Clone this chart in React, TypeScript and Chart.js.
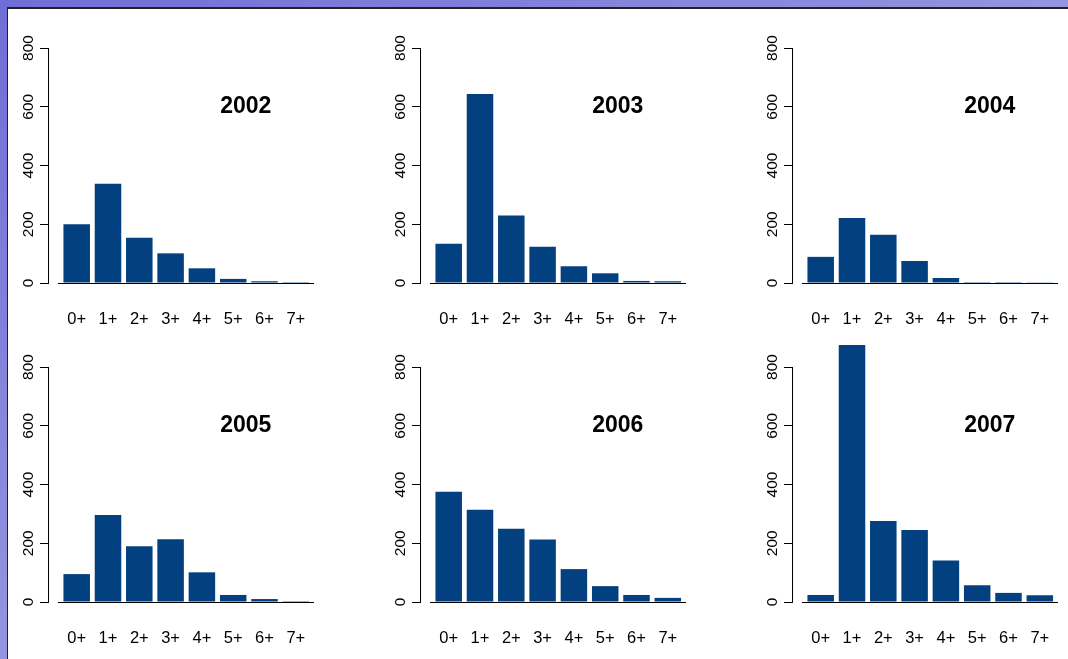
import React, { useEffect, useRef } from "react";
import { Chart, registerables } from "chart.js";

Chart.register(...registerables);

// ---- data ----
const ageClasses = ["0+", "1+", "2+", "3+", "4+", "5+", "6+", "7+"];
const years = ["2002", "2003", "2004", "2005", "2006", "2007"];
const counts2002 = [200, 338, 154, 101, 50, 14, 6, 3];
const counts2003 = [134, 643, 230, 123, 57, 33, 7, 6];
const counts2004 = [89, 221, 164, 75, 17, 3, 3, 1];
const counts2005 = [95, 296, 190, 214, 101, 24, 10, 3];
const counts2006 = [375, 314, 249, 213, 112, 54, 24, 14];
const counts2007 = [24, 875, 276, 245, 141, 57, 31, 23];
const yTicks = [0, 200, 400, 600, 800];

const seriesByYear = [counts2002, counts2003, counts2004, counts2005, counts2006, counts2007];

// ---- layout / style ----
const BAR = "#02407f";
const CW = 372;
const CH = 340;
const PAD_L = 58;
const PAD_T = 48;
const PAD_R = 59;
const X_AXIS_H = 57;
const PITCH = 31.3;
const FIRST_CENTER = 76.7;
const X_MIN = (PAD_L - FIRST_CENTER) / PITCH;
const X_MAX = X_MIN + (CW - PAD_L - PAD_R) / PITCH;
const Y_AXIS_AT = (48.4 - FIRST_CENTER) / PITCH;
const TITLE_X = 5.4;
const TITLE_Y = 600;
const FONT = '"Liberation Sans", Arial, sans-serif';

const panelText = {
  id: "panelText",
  afterDraw(chart: any, _args: any, opts: any) {
    const { ctx } = chart;
    const x = chart.scales.x;
    const y = chart.scales.y;
    ctx.save();
    ctx.fillStyle = "#000";
    ctx.textAlign = "center";
    ctx.textBaseline = "middle";
    ctx.font = `15.5px ${FONT}`;
    const ax = x.getPixelForValue(Y_AXIS_AT);
    for (const t of y.ticks) {
      const py = y.getPixelForValue(t.value);
      ctx.save();
      ctx.translate(ax - 20, py);
      ctx.rotate(-Math.PI / 2);
      ctx.fillText(String(t.value), 0, 0);
      ctx.restore();
    }
    ctx.font = `bold 23px ${FONT}`;
    ctx.fillText(opts.year, x.getPixelForValue(TITLE_X), y.getPixelForValue(TITLE_Y));
    ctx.restore();
  },
};

function Panel({ year, values, left, top }: { year: string; values: number[]; left: number; top: number }) {
  const ref = useRef<HTMLCanvasElement>(null);
  useEffect(() => {
    const chart = new Chart(ref.current as HTMLCanvasElement, {
      type: "bar",
      data: {
        datasets: [
          {
            data: values.map((v, i) => ({ x: i, y: v })),
            backgroundColor: BAR,
            borderWidth: 0,
            barPercentage: 0.847,
            categoryPercentage: 1,
            clip: false,
          } as any,
        ],
      },
      options: {
        animation: false,
        responsive: false,
        maintainAspectRatio: false,
        devicePixelRatio: 1,
        layout: { padding: { left: PAD_L, top: PAD_T, right: PAD_R, bottom: 0 } },
        plugins: {
          legend: { display: false },
          tooltip: { enabled: false },
          title: { display: false },
          panelText: { year },
        } as any,
        scales: {
          x: {
            type: "linear",
            offset: false,
            min: X_MIN,
            max: X_MAX,
            afterBuildTicks: (s: any) => {
              s.ticks = ageClasses.map((_, i) => ({ value: i }));
            },
            afterFit: (s: any) => {
              s.height = X_AXIS_H;
            },
            grid: { display: false, drawTicks: false },
            border: { display: true, color: "#000", width: 1 },
            ticks: {
              autoSkip: false,
              maxRotation: 0,
              minRotation: 0,
              padding: 27,
              color: "#000",
              font: { family: FONT, size: 16.5 },
              callback: (v: any) => ageClasses[v] ?? "",
            },
          },
          y: {
            type: "linear",
            position: { x: Y_AXIS_AT } as any,
            min: 0,
            max: 800,
            afterBuildTicks: (s: any) => {
              s.ticks = yTicks.map((v) => ({ value: v }));
            },
            afterFit: (s: any) => {
              s.width = 0;
            },
            grid: { display: true, drawOnChartArea: false, drawTicks: true, tickLength: 8, color: "#000", lineWidth: 1 },
            border: { display: true, color: "#000", width: 1 },
            ticks: { display: false },
          },
        },
      } as any,
      plugins: [panelText],
    });
    return () => chart.destroy();
  }, []);
  return (
    <canvas
      ref={ref}
      width={CW}
      height={CH}
      style={{ position: "absolute", left, top, width: CW, height: CH }}
    />
  );
}

export default function App() {
  return (
    <div
      style={{
        position: "fixed",
        left: 0,
        top: 0,
        width: 1068,
        height: 659,
        overflow: "hidden",
        background: "linear-gradient(to bottom right, #6e6ed6 0%, #9494e0 50%, #b8b8ea 100%)",
      }}
    >
      <div
        style={{
          position: "absolute",
          left: 7,
          top: 7,
          right: 0,
          bottom: 0,
          background: "#fff",
          borderTop: "2px solid #222",
          borderLeft: "1px solid #222",
        }}
      />
      {years.map((yr, i) => (
        <Panel
          key={yr}
          year={yr}
          values={seriesByYear[i]}
          left={(i % 3) * 372}
          top={Math.floor(i / 3) * 319}
        />
      ))}
    </div>
  );
}
